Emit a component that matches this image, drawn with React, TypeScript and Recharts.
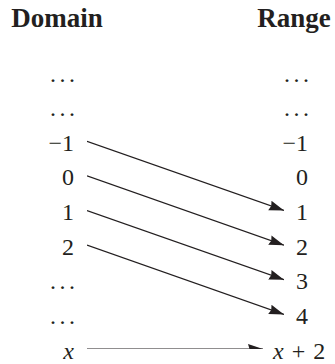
import React from "react";
import { ComposedChart, Line, XAxis, YAxis, Customized } from "recharts";

const DOMAIN_LABELS = ["…", "…", "−1", "0", "1", "2", "…", "…", "x"];
const RANGE_LABELS = ["…", "…", "−1", "0", "1", "2", "3", "4", "x + 2"];
const MAP_FROM = ["−1", "0", "1", "2", "x"];
const MAP_TO = ["1", "2", "3", "4", "x + 2"];
const TITLES = ["Domain", "Range"];

const ROWS = DOMAIN_LABELS.map((_, i) => i);
const INK = "#231f20";
const FONT = "'Liberation Serif', 'Times New Roman', serif";
const FS = 24;

const W = 335;
const H = 364;

const renderMath = (label: string) =>
  label.split(/(x)/).filter((s) => s.length > 0).map((s, i) =>
    s === "x" ? (
      <tspan key={i} fontStyle="italic">x</tspan>
    ) : (
      <tspan key={i}>{s}</tspan>
    )
  );

const Ellipsis = ({ x, y }: { x: number; y: number }) => (
  <text x={x} y={y} textAnchor="start" fontFamily={FONT} fontSize={FS} fill={INK} letterSpacing={3.5}>
    ...
  </text>
);

const LeftTick = (props: any) => {
  const { x, y, payload } = props;
  const label = DOMAIN_LABELS[payload.value];
  if (label === "…") return <Ellipsis x={x - 37} y={y + 9.5} />;
  return (
    <text x={x - 13} y={y + 9.5} textAnchor="end" fontFamily={FONT} fontSize={FS} fill={INK}>
      {renderMath(label)}
    </text>
  );
};

const RightTick = (props: any) => {
  const { x, y, payload } = props;
  const label = RANGE_LABELS[payload.value];
  if (label === "…") return <Ellipsis x={x} y={y + 9.5} />;
  const isExpr = label.includes("x");
  return (
    <text
      x={isExpr ? x - 11 : x + 24}
      y={y + 9.5}
      textAnchor={isExpr ? "start" : "end"}
      fontFamily={FONT}
      fontSize={FS}
      fill={INK}
      wordSpacing={isExpr ? 2 : 0}
      style={{ whiteSpace: "pre" }}
    >
      {renderMath(label)}
    </text>
  );
};

const arrows = MAP_FROM.map((f, i) => {
  const t = MAP_TO[i];
  const endX = t.includes("x") ? 1 - 21 / 197 : 1;
  return [
    { x: 0, y: DOMAIN_LABELS.indexOf(f) },
    { x: endX, y: RANGE_LABELS.indexOf(t) },
  ];
});

const rangeAnchor = ROWS.map((r) => ({ x: 1, y: r }));

const Titles = () => (
  <g>
    <defs>
      <marker
        id="arrowHead"
        markerUnits="userSpaceOnUse"
        markerWidth={17}
        markerHeight={12}
        refX={15}
        refY={6}
        orient="auto"
      >
        <path d="M0,1 L15,6 L0,11 L1.5,6 Z" fill={INK} />
      </marker>
    </defs>
    <text x={57} y={27} textAnchor="middle" fontFamily={FONT} fontWeight="bold" fontSize={27} fill={INK}>
      {TITLES[0]}
    </text>
    <text x={294} y={27} textAnchor="middle" fontFamily={FONT} fontWeight="bold" fontSize={27} fill={INK}>
      {TITLES[1]}
    </text>
  </g>
);

export default function App() {
  return (
    <div style={{ width: W, height: H, background: "#fff" }}>
      <style>{`body{margin:0;background:#fff}`}</style>
      <ComposedChart width={W} height={H} margin={{ top: 72, right: 0, bottom: 15, left: 0 }}>
        <XAxis type="number" dataKey="x" domain={[0, 1]} hide allowDataOverflow />
        <YAxis
          yAxisId="left"
          type="number"
          domain={[0, ROWS.length - 1]}
          allowDataOverflow
          ticks={ROWS}
          interval={0}
          reversed
          width={87}
          axisLine={false}
          tickLine={false}
          tickSize={0}
          tickMargin={0}
          tick={<LeftTick />}
        />
        <YAxis
          yAxisId="right"
          orientation="right"
          type="number"
          domain={[0, ROWS.length - 1]}
          allowDataOverflow
          ticks={ROWS}
          interval={0}
          reversed
          width={51}
          axisLine={false}
          tickLine={false}
          tickSize={0}
          tickMargin={0}
          tick={<RightTick />}
        />
        <Customized component={<Titles />} />
        <Line
          yAxisId="right"
          data={rangeAnchor}
          dataKey="y"
          stroke="none"
          dot={false}
          activeDot={false}
          isAnimationActive={false}
        />
        {arrows.map((d, i) => (
          <Line
            key={i}
            yAxisId="left"
            data={d}
            dataKey="y"
            type="linear"
            stroke={INK}
            strokeWidth={1.2}
            dot={false}
            activeDot={false}
            markerEnd="url(#arrowHead)"
            isAnimationActive={false}
          />
        ))}
      </ComposedChart>
    </div>
  );
}
